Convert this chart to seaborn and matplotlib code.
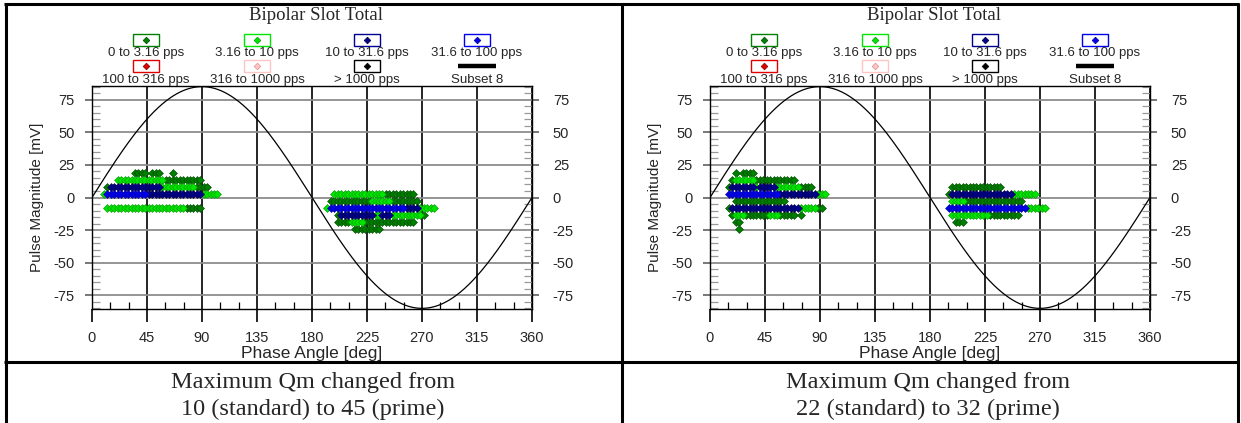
import numpy as np
import pandas as pd
import matplotlib
matplotlib.use("Agg")
import matplotlib.pyplot as plt
import matplotlib.transforms as mtrans
import seaborn as sns
from matplotlib.patches import Rectangle

sns.set_theme(style="white")
plt.rcParams['font.family'] = ['Liberation Sans', 'DejaVu Sans']

# ------------------------------------------------------------------ data
chart_title = "Bipolar Slot Total"
x_label = "Phase Angle [deg]"
y_label = "Pulse Magnitude [mV]"
x_ticks = [0, 45, 90, 135, 180, 225, 270, 315, 360]
x_minor_ticks = [15, 30, 60, 75, 105, 120, 150, 165, 195, 210, 240, 255, 285, 300, 330, 345]
y_ticks = [-75, -50, -25, 0, 25, 50, 75]
y_minor_ticks = list(range(-85, 90, 5))
y_limit = 85.5
sine_amplitude_mV = 85.0

phase_window_deg = 2.8125          # width of one phase window (128 per cycle)

class_codes = ["g", "G", "b", "B", "r", "p", "k"]
class_labels = ["0 to 3.16 pps", "3.16 to 10 pps", "10 to 31.6 pps", "31.6 to 100 pps",
                "100 to 316 pps", "316 to 1000 pps", "> 1000 pps"]
class_colors = ["#008000", "#00e600", "#000090", "#0000ee", "#e00000", "#ffc4c4", "#000000"]
class_edges = ["#004a00", "#009a00", "#000040", "#000099", "#800000", "#e09090", "#000000"]
subset_label = "Subset 8"

# rows: (magnitude mV, first phase window, run-length coded classes per window)
left_rows = [
    (18.9, 12, "g4 .1 g3 .3 g1"),
    (13.5, 7, "G14 g11"),
    (8.1, 4, "g1 b15 G10 g4"),
    (2.7, 3, "G1 B12 b16 G5"),
    (-8.1, 4, "G23 g5"),
    (2.7, 70, "G15 g9"),
    (-2.7, 69, "g12 G6 g8"),
    (-8.1, 68, "G1 B22 b4 G5"),
    (-13.5, 71, "g1 b10 G2 b3 G9 g1"),
    (-18.9, 71, "g4 G4 g15"),
    (-24.3, 76, "g8"),
]
right_rows = [
    (18.9, 7, "g1 .1 g4"),
    (13.5, 6, "g1 G6 g12"),
    (8.1, 5, "g1 b7 G1 b5 G7 g4"),
    (2.7, 5, "B15 b11 G3"),
    (-2.7, 7, "g15"),
    (-8.1, 5, "g1 b20 G5 g2"),
    (-13.5, 6, "g1 G3 g7 G3 g5 .1 g1"),
    (-18.9, 7, "g2"),
    (-24.3, 8, "g1"),
    (8.1, 70, "g15"),
    (2.7, 69, "g1 b18 G7"),
    (-2.7, 70, "G4 g17"),
    (-8.1, 69, "B23 G6"),
    (-13.5, 70, "G11 g9"),
    (-18.9, 71, "g3"),
]
captions = ["Maximum Qm changed from\n10 (standard) to 45 (prime)",
            "Maximum Qm changed from\n22 (standard) to 32 (prime)"]


def rows_to_frame(rows):
    recs = []
    for mag, start, spec in rows:
        w = start
        for tok in spec.split():
            code, n = tok[0], int(tok[1:])
            for _ in range(n):
                if code != ".":
                    recs.append({"phase": (w + 0.5) * phase_window_deg,
                                 "magnitude": mag, "cls": code})
                w += 1
    return pd.DataFrame(recs)


panels = [rows_to_frame(left_rows), rows_to_frame(right_rows)]

# ------------------------------------------------------------------ layout (pixels)
W, H, DPI = 1241, 423, 100
fig = plt.figure(figsize=(W / DPI, H / DPI), dpi=DPI)
frame = fig.add_axes([0, 0, 1, 1], zorder=0)
frame.set_xlim(0, W)
frame.set_ylim(H, 0)
frame.axis("off")

AX_TOP, AX_BOT, AX_W = 86, 309, 440
ax_lefts = [92, 710]
cell_centers = [313, 928]

# table borders
border_kw = dict(color="black", lw=2.2, solid_capstyle="butt")
frame.plot([4, 1239], [4.5, 4.5], **border_kw)
frame.plot([5.5, 5.5], [3.5, H], **border_kw)
frame.plot([621.5, 621.5], [3.5, H], **border_kw)
frame.plot([1237.5, 1237.5], [3.5, H], **border_kw)
frame.plot([4, 1239], [362, 362], **border_kw)

col_offsets = [54, 165, 275, 385]
box_y = [40, 66]
lab_y = [53, 80]

for p, df in enumerate(panels):
    x0 = ax_lefts[p]
    ax = fig.add_axes([x0 / W, 1 - AX_BOT / H, AX_W / W, (AX_BOT - AX_TOP) / H], zorder=2)
    ax.set_facecolor("white")

    # reference sine
    ph = np.linspace(0, 360, 721)
    sns.lineplot(x=ph, y=sine_amplitude_mV * np.sin(np.radians(ph)), color="black",
                 lw=0.9, ax=ax, zorder=4)

    for code, col, ec in zip(class_codes, class_colors, class_edges):
        sub = df[df["cls"] == code]
        if len(sub):
            sns.scatterplot(data=sub, x="phase", y="magnitude", color=col, marker="D",
                            s=16, edgecolor=ec, linewidth=0.45, ax=ax, legend=False,
                            zorder=5)

    ax.set_xlim(0, 360)
    ax.set_ylim(-y_limit, y_limit)
    ax.set_xticks(x_ticks)
    ax.set_xticks(x_minor_ticks, minor=True)
    ax.set_yticks(y_ticks)
    ax.set_yticks(y_minor_ticks, minor=True)
    ax.set_xticklabels([str(t) for t in x_ticks])
    ax.set_yticklabels([str(t) for t in y_ticks])
    ax.tick_params(axis="x", which="major", direction="out", length=9, width=1.2,
                   color="black", labelsize=10.5, pad=6.5, bottom=True)
    ax.tick_params(axis="x", which="minor", direction="in", length=5, width=0.9,
                   color="black", bottom=True, top=False)
    ax.tick_params(axis="y", which="major", direction="out", length=5, width=1.2,
                   color="#606060", left=True, right=True, labelleft=True,
                   labelright=True, labelsize=10.5, pad=7.5)
    ax.tick_params(axis="y", which="minor", direction="in", length=5.5, width=0.9,
                   color="#9a9a9a", left=True, right=True)
    ax.grid(True, axis="x", which="major", color="black", lw=1.2)
    ax.grid(True, axis="y", which="major", color="#8c8c8c", lw=1.3)
    ax.set_axisbelow(True)
    for s in ax.spines.values():
        s.set_color("black")
        s.set_linewidth(1.0)
        s.set_visible(True)

    ax.set_xlabel(x_label, fontsize=12.5)
    ax.set_ylabel(y_label, fontsize=11)
    ax.xaxis.set_label_coords(0.5, (AX_BOT - 346) / (AX_BOT - AX_TOP))
    ax.yaxis.set_label_coords((44 - 92) / AX_W, 0.5)

    # right-hand labels sit a little further out than the left-hand ones
    shift = mtrans.ScaledTranslation(2.5 / 72, 0, fig.dpi_scale_trans)
    for t in ax.yaxis.get_major_ticks():
        t.label2.set_transform(t.label2.get_transform() + shift)

    # title
    frame.text(x0 + AX_W / 2 + 4, 15, chart_title, ha="center", va="center",
               fontsize=13.5, family="Liberation Serif")

    # legend
    for j, (lab, col, ec) in enumerate(zip(class_labels, class_colors, class_edges)):
        r, c = divmod(j, 4)
        cx = x0 + col_offsets[c]
        frame.add_patch(Rectangle((cx - 13, box_y[r] - 6), 26, 12, fill=False,
                                  edgecolor=col, lw=1.0))
        frame.plot([cx], [box_y[r]], marker="D", ms=3.4, color=col, mec=ec, mew=0.5)
        frame.text(cx, lab_y[r], lab, ha="center", va="center", fontsize=9.5)
    cx = x0 + col_offsets[3]
    frame.plot([cx - 19, cx + 19], [box_y[1], box_y[1]], color="black", lw=3.2,
               solid_capstyle="butt")
    frame.text(cx, lab_y[1], subset_label, ha="center", va="center", fontsize=9.5)

    # caption
    frame.text(cell_centers[p], 396, captions[p], ha="center", va="center",
               fontsize=17.5, family="Liberation Serif", linespacing=1.36)

fig.savefig("out.png", dpi=DPI)
